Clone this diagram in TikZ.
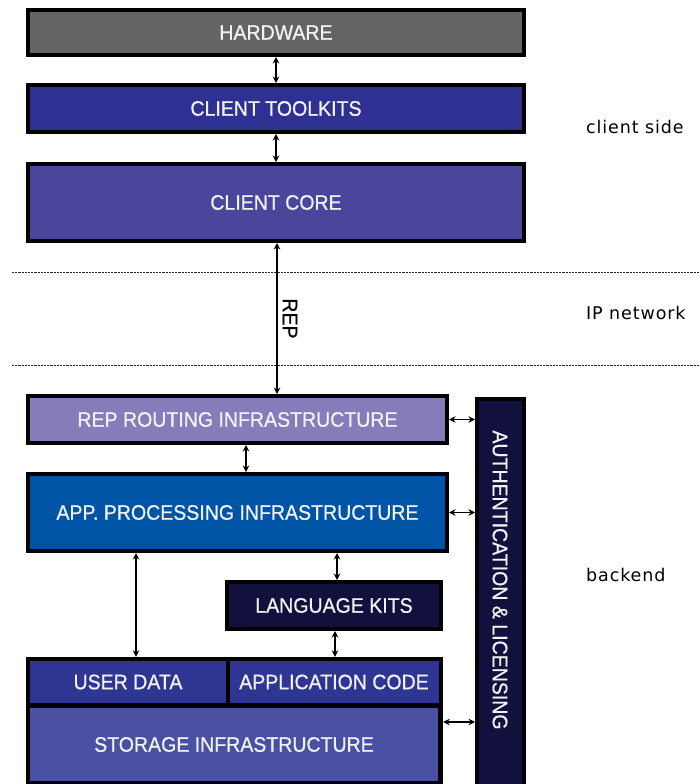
\documentclass[tikz,border=0pt]{standalone}
\usepackage{fontspec}
\setmainfont{Liberation Sans}
\newfontfamily\boxfont[FakeStretch=0.93,FakeBold=0.7]{Liberation Sans}
\newfontfamily\sidefont[LetterSpace=5]{DejaVu Sans}
\usetikzlibrary{arrows.meta}
\definecolor{hwgray}{HTML}{646464}
\definecolor{ctblue}{HTML}{2E3192}
\definecolor{ccblue}{HTML}{4A469C}
\definecolor{rrlav}{HTML}{857DBA}
\definecolor{appblue}{HTML}{0054A5}
\definecolor{navy}{HTML}{12113E}
\definecolor{udblue}{HTML}{2E3592}
\definecolor{stblue}{HTML}{4A51A3}
\definecolor{txt}{HTML}{F2F2F2}
\begin{document}
\begin{tikzpicture}[x=1pt,y=-1pt,
  box/.style={draw=black, line width=4pt, text=txt, inner sep=0pt,
    font=\boxfont\fontsize{21}{24}\selectfont},
  cell/.style={inner sep=0pt, text=txt, font=\boxfont\fontsize{21}{24}\selectfont},
  arr/.style={{Stealth[length=6.5pt,width=6.5pt]}-{Stealth[length=6.5pt,width=6.5pt]}, line width=1.2pt},
  side/.style={anchor=base west, inner sep=0pt, text=black, font=\sidefont\fontsize{17.5}{20}\selectfont},
  dotline/.style={line width=1pt, dash pattern=on 2.2pt off 1pt, black!85}
]
\useasboundingbox (0,0) rectangle (699,784);

% separators
\draw[dotline] (12,272) -- (699,272);
\draw[dotline] (12,365) -- (699,365);

% client side
\node (hw) [box, fill=hwgray, minimum width=496pt, minimum height=45pt] at (276,32.5) {HARDWARE};
\node (ct) [box, fill=ctblue, minimum width=496pt, minimum height=47pt] at (276,108.5) {CLIENT TOOLKITS};
\node (cc) [box, fill=ccblue, minimum width=496pt, minimum height=77pt] at (276,202.5) {CLIENT CORE};

% backend
\node (rr) [box, fill=rrlav, minimum width=419pt, minimum height=47pt] at (237.5,419.5) {REP ROUTING INFRASTRUCTURE};
\node (app) [box, fill=appblue, minimum width=419pt, minimum height=77pt] at (237.5,512.5) {APP. PROCESSING INFRASTRUCTURE};
\node (lk) [box, fill=navy, minimum width=214pt, minimum height=47pt] at (334,605.5) {LANGUAGE KITS};

\node (storbox) [fill=black, inner sep=0pt, minimum width=417pt, minimum height=129pt] at (234.5,721.5) {};
\node (ud) [cell, fill=udblue, minimum width=196pt, minimum height=42pt] at (128,682) {USER DATA};
\node (ac) [cell, fill=udblue, minimum width=209pt, minimum height=42pt] at (334,682) {APPLICATION CODE};
\node (st) [cell, fill=stblue, minimum width=408pt, minimum height=73pt] at (234,744.5) {STORAGE INFRASTRUCTURE};

\node (auth) [box, fill=navy, minimum width=47pt, minimum height=390pt] at (500.5,399+195) {};
\node (authlbl) [cell, rotate=-90] at (500,580) {AUTHENTICATION \& LICENSING};

% connectors
\draw[arr] (hw.south) -- (ct.north);
\draw[arr] (ct.south) -- (cc.north);
\draw[arr] ([xshift=1pt]cc.south) -- ([xshift=1pt]cc.south |- rr.north)
  node[midway, xshift=13pt, rotate=-90, inner sep=0pt, text=black, font=\boxfont\fontsize{21}{24}\selectfont] {REP};
\draw[arr] ([xshift=8.5pt]rr.south) -- ([xshift=8.5pt]app.north);
\draw[arr] ([xshift=8pt]ud.north |- app.south) -- ([xshift=8pt]ud.north |- storbox.north);
\draw[arr] ([xshift=3pt]lk.north |- app.south) -- ([xshift=3pt]lk.north);
\draw[arr] ([xshift=1pt]lk.south) -- ([xshift=1pt]lk.south |- storbox.north);
\draw[arr] (rr.east) -- (rr.east -| auth.west);
\draw[arr] (app.east) -- (app.east -| auth.west);
\draw[arr] ([yshift=22.5pt]st.east -| storbox.east) -- ([yshift=22.5pt]st.east -| auth.west);

% side labels
\node (lcs) [side] at (586,133) {client side};
\node (lip) [side] at (586,319) {IP network};
\node (lbe) [side] at (586,581) {backend};
\end{tikzpicture}
\end{document}
